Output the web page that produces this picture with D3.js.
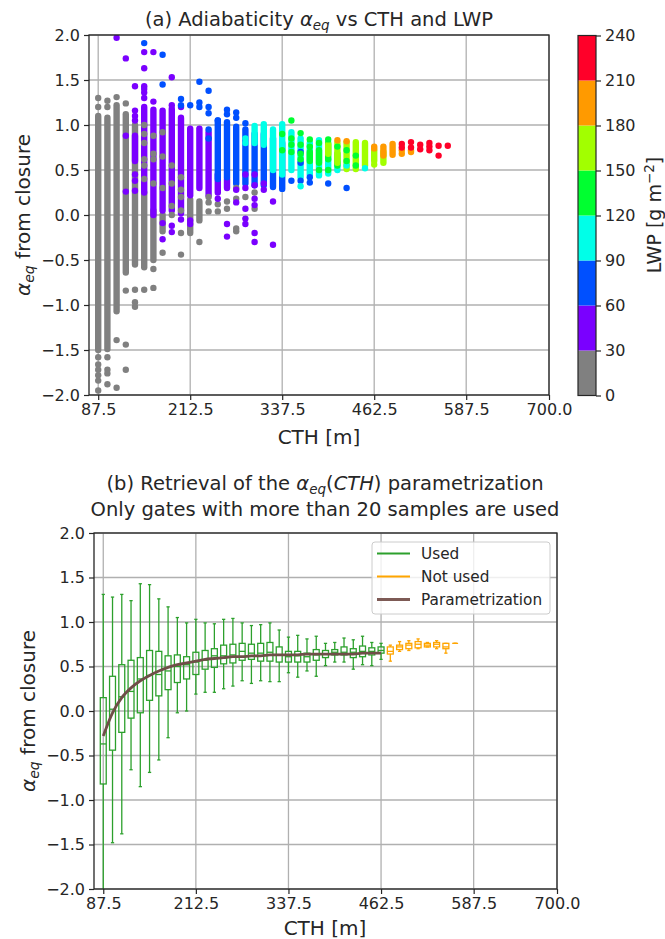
<!DOCTYPE html>
<html>
<head>
<meta charset="utf-8">
<script src="https://cdn.jsdelivr.net/npm/d3@7"></script>
<style>
  body { margin: 0; background: #fff; }
  text { font-family: "DejaVu Sans", sans-serif; fill: #262626; }
</style>
</head>
<body>
<svg id="fig" width="665" height="939"></svg>
<script>
"use strict";

// ---- data ----
var cthBins = [87.5, 100, 112.5, 125, 137.5, 150, 162.5, 175, 187.5, 200, 212.5, 225, 237.5,
  250, 262.5, 275, 287.5, 300, 312.5, 325, 337.5, 350, 362.5, 375, 387.5, 400, 412.5, 425,
  437.5, 450, 462.5, 475, 487.5, 500, 512.5, 525, 537.5, 550, 562.5];
var lastUsedCth = 462.5;  // gates above this have < 20 samples

var boxLow  = [-2.3,-1.48,-1.38,-0.66,-0.85,-0.69,-0.55,-0.30,-0.02,0.00,0.19,0.21,0.21,0.25,0.28,0.34,0.31,0.34,0.33,0.33,0.43,0.38,0.45,0.39,0.51,0.55,0.55,0.47,0.52,0.51,0.58,0.56,0.67,0.68,0.70,0.72,0.70,0.65,0.76];
var boxQ1   = [-0.82,-0.44,-0.24,-0.08,-0.02,0.12,0.17,0.24,0.32,0.36,0.41,0.47,0.49,0.53,0.54,0.57,0.58,0.56,0.56,0.55,0.55,0.55,0.55,0.57,0.60,0.63,0.63,0.60,0.61,0.63,0.65,0.64,0.69,0.70,0.71,0.72,0.72,0.70,0.76];
var boxMed  = [-0.37,0.02,0.16,0.22,0.36,0.40,0.41,0.45,0.50,0.52,0.55,0.57,0.62,0.62,0.63,0.67,0.65,0.65,0.66,0.63,0.61,0.62,0.61,0.63,0.64,0.66,0.66,0.66,0.67,0.67,0.68,0.67,0.72,0.74,0.75,0.74,0.75,0.72,0.76];
var boxQ3   = [0.15,0.39,0.52,0.57,0.60,0.68,0.67,0.62,0.63,0.61,0.66,0.68,0.70,0.74,0.75,0.76,0.75,0.76,0.77,0.72,0.67,0.67,0.65,0.69,0.68,0.69,0.72,0.70,0.73,0.71,0.72,0.72,0.74,0.76,0.78,0.76,0.77,0.76,0.76];
var boxHigh = [1.31,1.28,1.31,1.24,1.43,1.42,1.26,1.17,1.05,0.99,1.03,0.99,0.98,1.03,1.04,0.99,0.96,0.97,0.99,0.91,0.83,0.85,0.81,0.84,0.76,0.77,0.82,0.80,0.84,0.77,0.76,0.74,0.78,0.79,0.81,0.77,0.79,0.76,0.76];

// fitted alpha_eq(CTH) at the used gates
var paramCurve = [-0.28,-0.02,0.15,0.26,0.34,0.40,0.45,0.49,0.52,0.54,0.56,0.58,0.59,0.60,0.61,
  0.61,0.62,0.62,0.63,0.63,0.63,0.63,0.64,0.64,0.64,0.64,0.64,0.64,0.65,0.65,0.65];

var xTicks = [87.5, 212.5, 337.5, 462.5, 587.5, 700];
var yTicks = [-2, -1.5, -1, -0.5, 0, 0.5, 1, 1.5, 2];
var lwpBounds = [0, 30, 60, 90, 120, 150, 180, 210, 240];
var lwpColors = ["#808080", "#7a00ff", "#0050ff", "#00ffe8", "#00ff30", "#a2ff00", "#ff9a00", "#ff0029"];

// stacks of overlapping markers: [CTH, alpha from, alpha to, LWP]
var denseRuns = [
  [87.5,-1.50,1.10,15],[100,-1.49,1.08,15],[112.5,-1.07,1.22,15],[125,-0.64,1.12,15],
  [137.5,-0.55,1.00,15],[150,-0.58,0.25,15],[162.5,-0.50,0.05,15],[175,-0.18,0.00,15],
  [212.5,-0.20,0.17,15],[225,-0.06,0.15,15],
  [137.5,0.60,0.88,45],[150,0.25,1.20,45],[162.5,0.00,1.17,45],[175,0.05,1.16,45],
  [187.5,0.05,1.18,45],[200,0.02,1.08,45],[212.5,0.22,0.96,45],[225,0.30,0.96,45],
  [237.5,0.22,0.92,45],[250,0.25,0.45,45],[262.5,0.30,0.40,45],
  [250,0.40,1.05,75],[262.5,0.42,1.03,75],[275,0.35,0.98,75],[287.5,0.35,0.95,75],
  [300,0.33,0.90,75],[312.5,0.33,0.90,75],[325,0.31,0.85,75],[337.5,0.29,0.80,75],
  [300,0.80,0.99,105],[312.5,0.78,1.01,105],[325,0.50,0.95,105],[337.5,0.45,1.01,105],
  [350,0.50,0.92,105],[362.5,0.42,0.85,105],[375,0.45,0.80,105],[387.5,0.44,0.83,105],
  [400,0.46,0.62,105],[412.5,0.50,0.58,105],
  [375,0.60,0.70,135],[387.5,0.58,0.72,135],[400,0.62,0.80,135],[412.5,0.55,0.68,135],
  [400,0.68,0.78,165],[412.5,0.58,0.80,165],[425,0.51,0.81,165],[437.5,0.51,0.81,165],
  [450,0.55,0.80,165],[462.5,0.60,0.72,165],[475,0.58,0.70,165],
  [475,0.66,0.76,195],[487.5,0.67,0.79,195]
];

// single markers: [CTH, alpha, LWP]
var scatterPts = [
  [87.5,1.30,15],[87.5,1.20,15],[87.5,-1.58,15],[87.5,-1.66,15],[87.5,-1.72,15],[87.5,-1.78,15],[87.5,-1.84,15],[87.5,-1.95,15],
  [100,1.27,15],[100,1.20,15],[100,-1.58,15],[100,-1.72,15],[100,-1.76,15],[100,-1.88,15],
  [112.5,1.31,15],[112.5,-1.39,15],[112.5,-1.92,15],
  [125,1.24,15],[125,-0.84,15],[125,-1.44,15],[125,-1.72,15],
  [137.5,-0.83,15],[137.5,-0.97,15],[137.5,-1.02,15],
  [150,-0.83,15],[150,0.40,15],[150,0.55,15],[150,0.62,15],[150,0.80,15],[150,0.90,15],[150,1.00,15],
  [162.5,-0.60,15],[162.5,-0.81,15],[162.5,0.35,15],[162.5,0.62,15],[162.5,0.68,15],[162.5,0.88,15],
  [175,-0.42,15],[175,0.30,15],[175,0.65,15],[175,0.92,15],
  [187.5,0.00,15],[187.5,0.10,15],[187.5,0.35,15],[187.5,0.55,15],
  [200,-0.20,15],[200,-0.44,15],[200,0.05,15],[200,0.20,15],[200,0.28,15],[200,0.42,15],
  [225,-0.30,15],[237.5,0.04,15],[237.5,0.14,15],[237.5,0.20,15],[250,0.04,15],[250,0.12,15],
  [262.5,0.07,15],[262.5,0.15,15],[275,0.18,15],[275,-0.15,15],[275,-0.18,15],[275,0.30,15],
  [287.5,0.20,15],[300,0.07,15],[300,0.25,15],
  [112.5,1.97,45],[125,1.74,45],[125,0.88,45],[125,0.26,45],
  [137.5,1.43,45],[137.5,1.16,45],[137.5,1.10,45],[137.5,1.05,45],[137.5,0.45,45],[137.5,0.38,45],[137.5,0.27,45],
  [150,1.81,45],[150,1.63,45],[150,1.43,45],[150,1.40,45],[150,1.36,45],[150,1.30,45],
  [162.5,1.81,45],[162.5,1.26,45],[175,-0.09,45],[175,-0.27,45],
  [187.5,1.53,45],[187.5,1.22,45],[187.5,-0.12,45],[187.5,-0.19,45],
  [200,1.20,45],[200,-0.05,45],[212.5,-0.06,45],[212.5,-0.10,45],[250,0.18,45],
  [262.5,-0.10,45],[262.5,-0.24,45],[275,0.14,45],[275,0.28,45],
  [287.5,0.45,45],[287.5,0.30,45],[287.5,0.07,45],[287.5,-0.04,45],[287.5,-0.10,45],
  [300,0.45,45],[300,0.33,45],[300,0.11,45],[300,0.18,45],[300,-0.20,45],[300,-0.30,45],
  [312.5,0.35,45],[312.5,0.28,45],[325,0.15,45],[325,-0.33,45],
  [150,1.91,75],[175,1.78,75],[175,1.45,75],[200,1.29,75],[200,1.22,75],[212.5,1.22,75],
  [225,1.48,75],[225,1.25,75],[225,1.20,75],[237.5,1.38,75],[237.5,1.20,75],[237.5,1.13,75],
  [237.5,0.95,75],[237.5,0.85,75],[250,1.05,75],[262.5,1.17,75],[262.5,1.12,75],
  [275,1.14,75],[275,1.08,75],[287.5,1.02,75],[350,0.38,75],[362.5,0.70,75],[362.5,0.58,75],
  [362.5,0.38,75],[375,0.42,75],[375,0.36,75],[400,0.35,75],[425,0.30,75],
  [287.5,0.80,105],[287.5,0.85,105],[362.5,0.32,105],[425,0.55,105],[450,0.52,105],
  [337.5,0.90,135],[337.5,0.72,135],[350,1.05,135],[350,0.85,135],[350,0.78,135],[350,0.70,135],
  [362.5,0.91,135],[362.5,0.78,135],[362.5,0.68,135],[362.5,0.62,135],[375,0.84,135],[375,0.76,135],
  [387.5,0.80,135],[387.5,0.50,135],[400,0.84,135],[400,0.50,135],[412.5,0.76,135],
  [425,0.60,135],[425,0.72,135],[437.5,0.66,135],[437.5,0.55,135],
  [462.5,0.56,165],
  [412.5,0.83,195],[425,0.82,195],[462.5,0.76,195],[462.5,0.74,195],[500,0.68,195],[500,0.72,195],
  [512.5,0.72,195],[512.5,0.70,195],
  [500,0.79,225],[500,0.75,225],[512.5,0.81,225],[512.5,0.75,225],[525,0.78,225],[525,0.73,225],
  [537.5,0.80,225],[537.5,0.76,225],[537.5,0.72,225],[550,0.77,225],[550,0.66,225],[562.5,0.77,225]
];

// ---- drawing ----
var svg = d3.select("#fig");
var fmt1 = d3.format(".1f");
var lwpColor = d3.scaleThreshold().domain(lwpBounds.slice(1, -1)).range(lwpColors);

function addAlphaLabel(g, tx, ty, rest) {
  var t = g.append("text").attr("transform", "translate(" + tx + "," + ty + ") rotate(-90)")
    .attr("text-anchor", "middle").style("font-size", "20px");
  t.append("tspan").style("font-style", "italic").text("α");
  t.append("tspan").style("font-style", "italic").style("font-size", "14px").attr("dy", 4).text("eq");
  t.append("tspan").attr("dy", -4).text(rest);
}

function drawFrame(x, y, clipId) {
  var left = x.range()[0], right = x.range()[1], top = y.range()[1], bottom = y.range()[0];
  var g = svg.append("g");
  g.append("clipPath").attr("id", clipId).append("rect")
    .attr("x", left).attr("y", top).attr("width", right - left).attr("height", bottom - top);
  // grid
  g.selectAll(".gx").data(xTicks).enter().append("line")
    .attr("x1", function (d) { return x(d); }).attr("x2", function (d) { return x(d); })
    .attr("y1", top).attr("y2", bottom).attr("stroke", "#b0b0b0").attr("stroke-width", 1.3);
  g.selectAll(".gy").data(yTicks).enter().append("line")
    .attr("y1", function (d) { return y(d); }).attr("y2", function (d) { return y(d); })
    .attr("x1", left).attr("x2", right).attr("stroke", "#b0b0b0").attr("stroke-width", 1.3);
  return g;
}

function drawAxes(x, y) {
  var left = x.range()[0], right = x.range()[1], top = y.range()[1], bottom = y.range()[0];
  var ax = svg.append("g").attr("transform", "translate(0," + bottom + ")")
    .call(d3.axisBottom(x).tickValues(xTicks).tickFormat(fmt1).tickSize(5).tickPadding(4));
  var ay = svg.append("g").attr("transform", "translate(" + left + ",0)")
    .call(d3.axisLeft(y).tickValues(yTicks).tickFormat(fmt1).tickSize(5).tickPadding(4));
  [ax, ay].forEach(function (a) {
    a.select(".domain").remove();
    a.selectAll("line").attr("stroke", "#262626").attr("stroke-width", 1.2);
    a.selectAll("text").style("font-size", "16px").style("font-family", "DejaVu Sans").attr("fill", "#262626");
  });
  svg.append("rect").attr("x", left).attr("y", top).attr("width", right - left)
    .attr("height", bottom - top).attr("fill", "none").attr("stroke", "#262626").attr("stroke-width", 1.3);
}

// ===== panel (a) =====
var xa = d3.scaleLinear().domain([75, 700]).range([89, 549]);
var ya = d3.scaleLinear().domain([-2, 2]).range([395, 35]);
drawFrame(xa, ya, "clipA");
var pa = svg.append("g").attr("clip-path", "url(#clipA)");
var markerR = 3.2;

pa.selectAll(".run").data(denseRuns).enter().append("line")
  .attr("x1", function (d) { return xa(d[0]); }).attr("x2", function (d) { return xa(d[0]); })
  .attr("y1", function (d) { return ya(d[1]); }).attr("y2", function (d) { return ya(d[2]); })
  .attr("stroke", function (d) { return lwpColor(d[3]); })
  .attr("stroke-width", markerR * 2).attr("stroke-linecap", "round");

pa.selectAll(".pt").data(scatterPts).enter().append("circle")
  .attr("cx", function (d) { return xa(d[0]); }).attr("cy", function (d) { return ya(d[1]); })
  .attr("r", markerR).attr("fill", function (d) { return lwpColor(d[2]); });

drawAxes(xa, ya);

var titleA = svg.append("text").attr("x", 319).attr("y", 26).attr("text-anchor", "middle").style("font-size", "19.5px");
titleA.append("tspan").text("(a) Adiabaticity ");
titleA.append("tspan").style("font-style", "italic").text("α");
titleA.append("tspan").style("font-style", "italic").style("font-size", "13.5px").attr("dy", 4).text("eq");
titleA.append("tspan").attr("dy", -4).text(" vs CTH and LWP");

svg.append("text").attr("x", 319).attr("y", 444).attr("text-anchor", "middle")
  .style("font-size", "20px").text("CTH [m]");
addAlphaLabel(svg, 30, 215, " from closure");

// colorbar
var cbY = d3.scaleLinear().domain([0, 240]).range([395.5, 35.5]);
var cb = svg.append("g");
cb.selectAll("rect").data(lwpColors).enter().append("rect")
  .attr("x", 578).attr("width", 18)
  .attr("y", function (d, i) { return cbY(lwpBounds[i + 1]); })
  .attr("height", function (d, i) { return cbY(lwpBounds[i]) - cbY(lwpBounds[i + 1]); })
  .attr("fill", function (d) { return d; });
cb.append("rect").attr("x", 578).attr("y", 35.5).attr("width", 18).attr("height", 360)
  .attr("fill", "none").attr("stroke", "#262626").attr("stroke-width", 1.2);
var cbAxis = svg.append("g").attr("transform", "translate(596,0)")
  .call(d3.axisRight(cbY).tickValues(lwpBounds).tickSize(5).tickPadding(4));
cbAxis.select(".domain").remove();
cbAxis.selectAll("line").attr("stroke", "#262626").attr("stroke-width", 1.2);
cbAxis.selectAll("text").style("font-size", "16px").style("font-family", "DejaVu Sans").attr("fill", "#262626");
var cbLab = svg.append("text").attr("transform", "translate(661,215) rotate(-90)")
  .attr("text-anchor", "middle").style("font-size", "19px");
cbLab.append("tspan").text("LWP [g m");
cbLab.append("tspan").style("font-size", "13.5px").attr("dy", -7).text("−2");
cbLab.append("tspan").attr("dy", 7).text("]");

// ===== panel (b) =====
var xb = d3.scaleLinear().domain([75, 700]).range([94, 557]);
var yb = d3.scaleLinear().domain([-2, 2]).range([889, 533]);
drawFrame(xb, yb, "clipB");
var pb = svg.append("g").attr("clip-path", "url(#clipB)");

var boxes = cthBins.map(function (c, i) {
  return { cth: c, lo: boxLow[i], q1: boxQ1[i], med: boxMed[i], q3: boxQ3[i], hi: boxHigh[i],
    color: c <= lastUsedCth ? "#2ca02c" : "#ffa500" };
});
var boxHalf = 4, capHalf = 2.2;
var bg = pb.selectAll(".box").data(boxes).enter().append("g")
  .attr("stroke", function (d) { return d.color; }).attr("stroke-width", 1.3).attr("fill", "none");
bg.append("line").attr("x1", function (d) { return xb(d.cth); }).attr("x2", function (d) { return xb(d.cth); })
  .attr("y1", function (d) { return yb(d.q3); }).attr("y2", function (d) { return yb(d.hi); });
bg.append("line").attr("x1", function (d) { return xb(d.cth); }).attr("x2", function (d) { return xb(d.cth); })
  .attr("y1", function (d) { return yb(d.q1); }).attr("y2", function (d) { return yb(d.lo); });
bg.append("line").attr("x1", function (d) { return xb(d.cth - capHalf); }).attr("x2", function (d) { return xb(d.cth + capHalf); })
  .attr("y1", function (d) { return yb(d.hi); }).attr("y2", function (d) { return yb(d.hi); });
bg.append("line").attr("x1", function (d) { return xb(d.cth - capHalf); }).attr("x2", function (d) { return xb(d.cth + capHalf); })
  .attr("y1", function (d) { return yb(d.lo); }).attr("y2", function (d) { return yb(d.lo); });
bg.append("rect").attr("x", function (d) { return xb(d.cth - boxHalf); })
  .attr("width", function (d) { return xb(d.cth + boxHalf) - xb(d.cth - boxHalf); })
  .attr("y", function (d) { return yb(d.q3); })
  .attr("height", function (d) { return yb(d.q1) - yb(d.q3); });
bg.append("line").attr("x1", function (d) { return xb(d.cth - boxHalf); }).attr("x2", function (d) { return xb(d.cth + boxHalf); })
  .attr("y1", function (d) { return yb(d.med); }).attr("y2", function (d) { return yb(d.med); });

var curveLine = d3.line().curve(d3.curveMonotoneX)
  .x(function (d, i) { return xb(cthBins[i]); }).y(function (d) { return yb(d); });
pb.append("path").datum(paramCurve).attr("d", curveLine)
  .attr("fill", "none").attr("stroke", "#6f4e48").attr("stroke-width", 2.8);

drawAxes(xb, yb);

var tb1 = svg.append("text").attr("x", 325).attr("y", 490).attr("text-anchor", "middle").style("font-size", "19.5px");
tb1.append("tspan").text("(b) Retrieval of the ");
tb1.append("tspan").style("font-style", "italic").text("α");
tb1.append("tspan").style("font-style", "italic").style("font-size", "13.5px").attr("dy", 4).text("eq");
tb1.append("tspan").attr("dy", -4).text("(");
tb1.append("tspan").style("font-style", "italic").text("CTH");
tb1.append("tspan").text(") parametrization");
svg.append("text").attr("x", 325).attr("y", 516).attr("text-anchor", "middle").style("font-size", "19.5px")
  .text("Only gates with more than 20 samples are used");

svg.append("text").attr("x", 325).attr("y", 935).attr("text-anchor", "middle")
  .style("font-size", "20px").text("CTH [m]");
addAlphaLabel(svg, 35, 711, " from closure");

// legend
var legendKeys = ["Used", "Not used", "Parametrization"];
var legendColors = ["#2ca02c", "#ffa500", "#7d5a55"];
var lg = svg.append("g");
lg.append("rect").attr("x", 372).attr("y", 542).attr("width", 178).attr("height", 72).attr("rx", 3)
  .attr("fill", "#fff").attr("fill-opacity", 0.8).attr("stroke", "#cccccc").attr("stroke-width", 1);
var le = lg.selectAll(".le").data(legendKeys).enter().append("g")
  .attr("transform", function (d, i) { return "translate(0," + (553.5 + i * 23) + ")"; });
le.append("line").attr("x1", 377).attr("x2", 410)
  .attr("stroke", function (d, i) { return legendColors[i]; })
  .attr("stroke-width", function (d, i) { return i === 2 ? 2.8 : 1.8; });
le.append("text").attr("x", 421).attr("y", 5.5).style("font-size", "15.3px").text(function (d) { return d; });
</script>
</body>
</html>
